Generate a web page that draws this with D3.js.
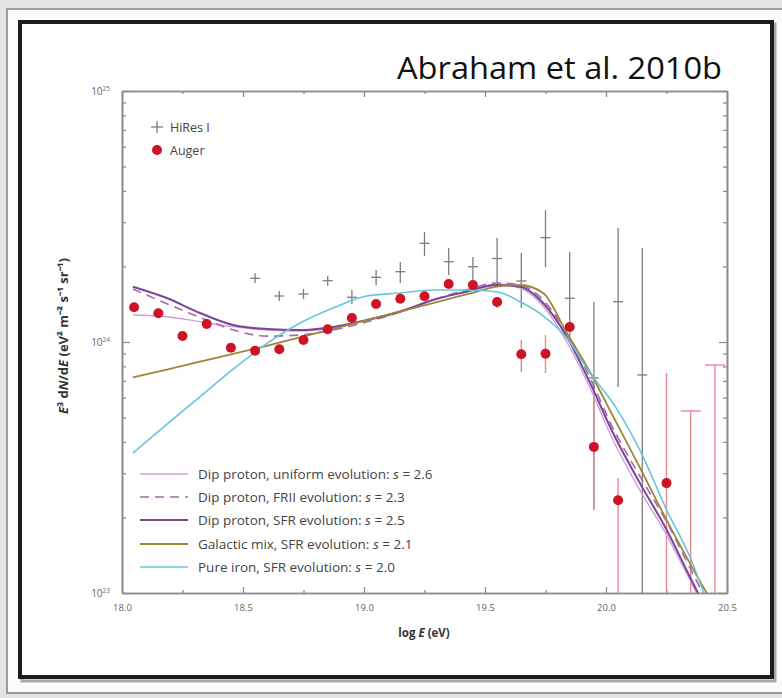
<!DOCTYPE html>
<html>
<head>
<meta charset="utf-8">
<script src="https://cdn.jsdelivr.net/npm/d3@7"></script>
<style>
  html, body { margin: 0; padding: 0; background: #e6e6e4; }
  svg { display: block; }
  text { font-family: "Open Sans", "Liberation Sans", sans-serif; }
</style>
</head>
<body>
<svg id="chart" width="782" height="698"></svg>
<script>
// Auger combined spectrum, E^3 dN/dE in eV^2 m^-2 s^-1 sr^-1
const augerLogE = [18.05, 18.15, 18.25, 18.35, 18.45, 18.55, 18.65, 18.75, 18.85, 18.95,
                   19.05, 19.15, 19.25, 19.35, 19.45, 19.55, 19.65, 19.75, 19.85, 19.95,
                   20.05, 20.25];
const augerFlux = [1.375e24, 1.301e24, 1.056e24, 1.179e24, 9.49e23, 9.23e23, 9.35e23, 1.018e24,
                   1.124e24, 1.246e24, 1.417e24, 1.488e24, 1.521e24, 1.702e24, 1.687e24, 1.443e24,
                   8.93e23, 8.98e23, 1.148e24, 3.82e23, 2.34e23, 2.74e23];
const augerLow  = [1.35e24, 1.28e24, 1.04e24, 1.16e24, 9.33e23, 9.07e23, 9.18e23, 9.98e23,
                   1.10e24, 1.22e24, 1.39e24, 1.46e24, 1.49e24, 1.66e24, 1.64e24, 1.366e24,
                   7.59e23, 7.52e23, 1.086e24, 2.14e23, 1e22, 1e22];
const augerHigh = [1.40e24, 1.32e24, 1.07e24, 1.20e24, 9.65e23, 9.39e23, 9.52e23, 1.038e24,
                   1.15e24, 1.27e24, 1.44e24, 1.52e24, 1.55e24, 1.74e24, 1.73e24, 1.511e24,
                   1.018e24, 1.066e24, 1.223e24, 5.87e23, 2.87e23, 7.52e23];
// Auger upper limits
const limitLogE = [20.35, 20.45];
const limitFlux = [5.31e23, 8.10e23];

// HiRes I monocular spectrum
const hiresLogE = [18.55, 18.65, 18.75, 18.85, 18.95, 19.05, 19.15, 19.25, 19.35, 19.45,
                   19.55, 19.65, 19.75, 19.85, 19.95, 20.05, 20.15];
const hiresFlux = [1.794e24, 1.525e24, 1.553e24, 1.755e24, 1.507e24, 1.810e24, 1.906e24, 2.474e24,
                   2.089e24, 1.995e24, 2.151e24, 1.750e24, 2.604e24, 1.494e24, 7.19e23, 1.447e24,
                   7.39e23];
const hiresLow  = [1.719e24, 1.457e24, 1.484e24, 1.677e24, 1.417e24, 1.687e24, 1.719e24, 2.201e24,
                   1.849e24, 1.687e24, 1.687e24, 1.366e24, 1.990e24, 1.037e24, 2.14e23, 6.62e23,
                   1e22];
const hiresHigh = [1.883e24, 1.597e24, 1.626e24, 1.837e24, 1.612e24, 1.936e24, 2.083e24, 2.743e24,
                   2.369e24, 2.181e24, 2.597e24, 2.262e24, 3.357e24, 2.284e24, 1.443e24, 2.846e24,
                   2.369e24];

// Model spectra sampled on a common log E grid
const modelLogE = [18.045, 18.185, 18.322, 18.459, 18.598, 18.736, 18.872, 19.011, 19.149, 19.285,
                   19.424, 19.548, 19.645, 19.74, 19.838, 19.934, 20.029, 20.14, 20.251, 20.347, 20.42];
const dipUniform = [1.281e24, 1.261e24, 1.205e24, 1.151e24, 1.116e24, 1.106e24, 1.137e24, 1.223e24,
                    1.329e24, 1.470e24, 1.597e24, 1.702e24, 1.641e24, 1.391e24, 1.0e24, 6.56e23,
                    4.07e23, 2.57e23, 1.70e23, 1.127e23, 8.25e22];
const dipFRII = [1.626e24, 1.421e24, 1.253e24, 1.118e24, 1.055e24, 1.066e24, 1.116e24, 1.202e24,
                 1.317e24, 1.470e24, 1.612e24, 1.719e24, 1.687e24, 1.470e24, 1.086e24, 7.19e23,
                 4.54e23, 2.92e23, 1.918e23, 1.258e23, 9.15e22];
const dipSFR = [1.661e24, 1.497e24, 1.305e24, 1.169e24, 1.127e24, 1.116e24, 1.148e24, 1.223e24,
                1.320e24, 1.470e24, 1.586e24, 1.687e24, 1.661e24, 1.430e24, 1.050e24, 6.87e23,
                4.34e23, 2.74e23, 1.782e23, 1.158e23, 8.36e22];
const galacticMix = [7.23e23, 7.77e23, 8.35e23, 8.96e23, 9.66e23, 1.044e24, 1.127e24, 1.221e24,
                     1.322e24, 1.430e24, 1.548e24, 1.661e24, 1.687e24, 1.567e24, 1.086e24, 7.59e23,
                     5.06e23, 3.16e23, 1.948e23, 1.313e23, 9.86e22];
const pureIron = [3.61e23, 4.70e23, 6.05e23, 7.79e23, 9.85e23, 1.190e24, 1.366e24, 1.525e24,
                  1.567e24, 1.612e24, 1.612e24, 1.586e24, 1.447e24, 1.272e24, 1.037e24, 7.52e23,
                  5.71e23, 3.71e23, 2.14e23, 1.391e23, 9.07e22];

const modelNames = ["Dip proton, uniform evolution: ", "Dip proton, FRII evolution: ",
                    "Dip proton, SFR evolution: ", "Galactic mix, SFR evolution: ",
                    "Pure iron, SFR evolution: "];
const modelIndex = ["2.6", "2.3", "2.5", "2.1", "2.0"];

const xTicks = [18.0, 18.5, 19.0, 19.5, 20.0, 20.5];
const xMinorTicks = [18.25, 18.75, 19.25, 19.75, 20.25];
const yTickExp = [23, 24, 25];

// ---------------------------------------------------------------
const svg = d3.select("#chart");

// slide card and black frame
svg.append("rect").attr("x", 0).attr("y", 0).attr("width", 782).attr("height", 698).attr("fill", "#e4e4e2");
svg.append("rect").attr("x", 7).attr("y", 9).attr("width", 800).attr("height", 684)
  .attr("fill", "#fbfbfb").attr("stroke", "#9c9c9c").attr("stroke-width", 2);
svg.append("rect").attr("x", 22).attr("y", 24).attr("width", 753).attr("height", 657)
  .attr("fill", "none").attr("stroke", "#555").attr("stroke-width", 3).attr("opacity", 0.5);
svg.append("rect").attr("x", 20).attr("y", 22).attr("width", 752).attr("height", 655)
  .attr("fill", "#ffffff").attr("stroke", "#1c1c1c").attr("stroke-width", 4);

svg.append("text").attr("x", 722).attr("y", 79).attr("text-anchor", "end")
  .attr("font-size", 31).attr("fill", "#111")
  .attr("textLength", 325).attr("lengthAdjust", "spacingAndGlyphs")
  .text("Abraham et al. 2010b");

const x = d3.scaleLinear().domain([18, 20.5]).range([122, 727]);
const y = d3.scaleLog().domain([1e23, 1e25]).range([593, 91]);

const axisColor = "#8c8c8c";
const minorY = [];
for (let e = 23; e < 25; e++) for (let m = 2; m <= 9; m++) minorY.push(m * Math.pow(10, e));

function styleAxis(g) {
  g.selectAll("path.domain").attr("stroke", axisColor).attr("stroke-width", 1.6);
  g.selectAll(".tick line").attr("stroke", axisColor).attr("stroke-width", 1.3);
}

// bottom & top axes
const gb = svg.append("g").attr("transform", `translate(0,${y.range()[0]})`)
  .call(d3.axisBottom(x).tickValues(xTicks).tickSizeInner(-6).tickSizeOuter(0).tickPadding(11)
        .tickFormat(d3.format(".1f")));
styleAxis(gb);
gb.selectAll(".tick text").attr("font-size", 9.5).attr("fill", "#666")
  .attr("font-family", "'Open Sans', sans-serif");
svg.append("g").attr("transform", `translate(0,${y.range()[0]})`)
  .call(d3.axisBottom(x).tickValues(xMinorTicks).tickSizeInner(-3).tickSizeOuter(0).tickFormat(""))
  .call(styleAxis);
const gt = svg.append("g").attr("transform", `translate(0,${y.range()[1]})`)
  .call(d3.axisTop(x).tickValues(xTicks).tickSizeInner(-6).tickSizeOuter(0).tickFormat(""));
styleAxis(gt);
svg.append("g").attr("transform", `translate(0,${y.range()[1]})`)
  .call(d3.axisTop(x).tickValues(xMinorTicks).tickSizeInner(-3).tickSizeOuter(0).tickFormat(""))
  .call(styleAxis);

// left & right axes
const majorY = yTickExp.map(e => Math.pow(10, e));
[[d3.axisLeft, x.range()[0]], [d3.axisRight, x.range()[1]]].forEach(([axisFn, px]) => {
  svg.append("g").attr("transform", `translate(${px},0)`)
    .call(axisFn(y).tickValues(majorY).tickSizeInner(-8).tickSizeOuter(0).tickFormat(""))
    .call(styleAxis);
  svg.append("g").attr("transform", `translate(${px},0)`)
    .call(axisFn(y).tickValues(minorY).tickSizeInner(-4).tickSizeOuter(0).tickFormat(""))
    .call(styleAxis);
});

// y tick labels 10^n
const yl = svg.append("g").selectAll("text").data(yTickExp).join("text")
  .attr("x", 110).attr("y", d => y(Math.pow(10, d)) + 4)
  .attr("text-anchor", "end").attr("font-size", 10).attr("fill", "#666");
yl.append("tspan").text("10");
yl.append("tspan").attr("dy", -4).attr("font-size", 6.5).text(d => d);

// axis titles
const xt = svg.append("text").attr("x", 424).attr("y", 637).attr("text-anchor", "middle")
  .attr("font-size", 11.5).attr("font-weight", "bold").attr("fill", "#333");
xt.append("tspan").text("log ");
xt.append("tspan").attr("font-style", "italic").text("E");
xt.append("tspan").text(" (eV)");

const yt = svg.append("text").attr("transform", "translate(68,336) rotate(-90)")
  .attr("text-anchor", "middle").attr("font-size", 13).attr("font-weight", "bold").attr("fill", "#333");
yt.append("tspan").attr("font-style", "italic").text("E");
yt.append("tspan").text("³ d");
yt.append("tspan").attr("font-style", "italic").text("N");
yt.append("tspan").text("/d");
yt.append("tspan").attr("font-style", "italic").text("E");
yt.append("tspan").text(" (eV² m⁻² s⁻¹ sr⁻¹)");

// plot clip
svg.append("clipPath").attr("id", "plotClip").append("rect")
  .attr("x", x.range()[0]).attr("y", y.range()[1])
  .attr("width", x.range()[1] - x.range()[0]).attr("height", y.range()[0] - y.range()[1]);
const plot = svg.append("g").attr("clip-path", "url(#plotClip)");

// HiRes I error bars and crosses
const hiresColor = "#7d7d7d";
const hires = hiresLogE.map((e, i) => ({ e, v: hiresFlux[i], lo: hiresLow[i], hi: hiresHigh[i] }));
plot.append("g").selectAll("line").data(hires).join("line")
  .attr("x1", d => x(d.e)).attr("x2", d => x(d.e))
  .attr("y1", d => y(d.hi)).attr("y2", d => y(d.lo))
  .attr("stroke", hiresColor).attr("stroke-width", 1.3);
plot.append("g").selectAll("line").data(hires).join("line")
  .attr("x1", d => x(d.e) - 5).attr("x2", d => x(d.e) + 5)
  .attr("y1", d => y(d.v)).attr("y2", d => y(d.v))
  .attr("stroke", hiresColor).attr("stroke-width", 1.3);

// Auger error bars and upper limits
const augerColor = "#cf1327";
const barColor = "#e58a92";
const auger = augerLogE.map((e, i) => ({ e, v: augerFlux[i], lo: augerLow[i], hi: augerHigh[i] }));
plot.append("g").selectAll("line").data(auger).join("line")
  .attr("x1", d => x(d.e)).attr("x2", d => x(d.e))
  .attr("y1", d => y(d.hi)).attr("y2", d => y(d.lo))
  .attr("stroke", barColor).attr("stroke-width", 1.4);
const limits = limitLogE.map((e, i) => ({ e, v: limitFlux[i] }));
plot.append("g").selectAll("line").data(limits).join("line")
  .attr("x1", d => x(d.e)).attr("x2", d => x(d.e))
  .attr("y1", d => y(d.v)).attr("y2", y.range()[0])
  .attr("stroke", barColor).attr("stroke-width", 1.4);
plot.append("g").selectAll("line").data(limits).join("line")
  .attr("x1", d => x(d.e) - 10).attr("x2", d => x(d.e) + 10)
  .attr("y1", d => y(d.v)).attr("y2", d => y(d.v))
  .attr("stroke", barColor).attr("stroke-width", 1.4);

// model curves
const models = [
  { vals: dipUniform, color: "#cf9ed9", width: 1.4, dash: null },
  { vals: dipFRII, color: "#a06aa6", width: 1.6, dash: "9,6" },
  { vals: dipSFR, color: "#7b4597", width: 2.0, dash: null },
  { vals: galacticMix, color: "#9e8636", width: 1.8, dash: null },
  { vals: pureIron, color: "#67c6dc", width: 1.6, dash: null }
];
const line = d3.line().x(d => x(d[0])).y(d => y(d[1])).curve(d3.curveMonotoneX);
plot.append("g").selectAll("path").data(models).join("path")
  .attr("d", m => line(modelLogE.map((e, i) => [e, m.vals[i]])))
  .attr("fill", "none").attr("stroke", m => m.color).attr("stroke-width", m => m.width)
  .attr("stroke-dasharray", m => m.dash);

// Auger points on top
plot.append("g").selectAll("circle").data(auger).join("circle")
  .attr("cx", d => x(d.e)).attr("cy", d => y(d.v)).attr("r", 5)
  .attr("fill", augerColor);

// data legend
const lg = svg.append("g");
lg.append("line").attr("x1", 151).attr("x2", 163).attr("y1", 127).attr("y2", 127).attr("stroke", hiresColor).attr("stroke-width", 1.3);
lg.append("line").attr("x1", 157).attr("x2", 157).attr("y1", 121).attr("y2", 133).attr("stroke", hiresColor).attr("stroke-width", 1.3);
lg.append("text").attr("x", 170).attr("y", 131.5).attr("font-size", 12.5).attr("fill", "#444").text("HiRes I");
lg.append("circle").attr("cx", 157).attr("cy", 150).attr("r", 5).attr("fill", augerColor);
lg.append("text").attr("x", 170).attr("y", 154.5).attr("font-size", 12.5).attr("fill", "#444").text("Auger");

// model legend
const rowY = [474, 497, 520, 544, 567];
const ml = svg.append("g").selectAll("g").data(models).join("g")
  .attr("transform", (d, i) => `translate(0,${rowY[i]})`);
ml.append("line").attr("x1", 140).attr("x2", 188).attr("y1", 0).attr("y2", 0)
  .attr("stroke", d => d.color).attr("stroke-width", d => d.width)
  .attr("stroke-dasharray", d => d.dash);
const mt = ml.append("text").attr("x", 198).attr("y", 4.5).attr("font-size", 13.5).attr("fill", "#444");
mt.append("tspan").text((d, i) => modelNames[i]);
mt.append("tspan").attr("font-style", "italic").text("s");
mt.append("tspan").text((d, i) => " = " + modelIndex[i]);
</script>
</body>
</html>
